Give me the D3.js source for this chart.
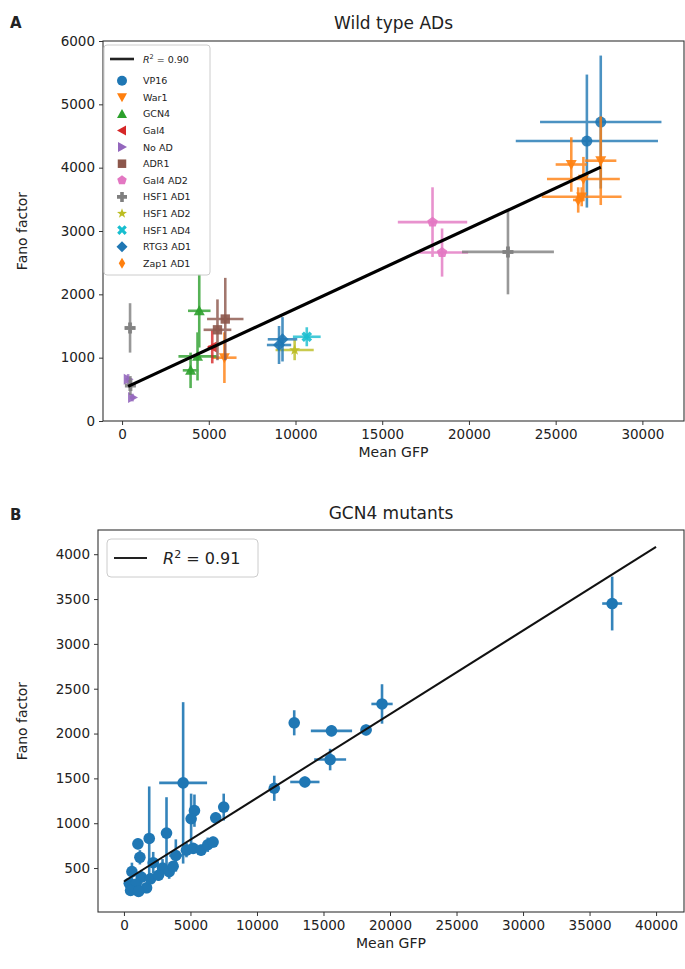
<!DOCTYPE html>
<html>
<head>
<meta charset="utf-8">
<script src="https://cdn.jsdelivr.net/npm/d3@7"></script>
<style>
  body { margin: 0; background: #fff; }
  svg text { font-family: "DejaVu Sans", sans-serif; fill: #222; }
</style>
</head>
<body>
<svg id="fig" width="685" height="969"></svg>
<script>
// ---------- panel A data: [mean GFP, fano, xerr, yerr] ----------
var adNames = ["VP16", "War1", "GCN4", "Gal4", "No AD", "ADR1", "Gal4 AD2", "HSF1 AD1", "HSF1 AD2", "HSF1 AD4", "RTG3 AD1", "Zap1 AD1"];
var adMarkers = ["o", "v", "^", "<", ">", "s", "p", "P", "*", "X", "D", "d"];
var adColors = ["#1f77b4", "#ff7f0e", "#2ca02c", "#d62728", "#9467bd", "#8c564b", "#e377c2", "#7f7f7f", "#bcbd22", "#17becf", "#1f77b4", "#ff7f0e"];

var vp16 = [[26800, 4420, 4100, 1050], [27600, 4720, 3500, 1050]];
var war1 = [[25900, 4050, 900, 430], [27600, 4110, 900, 700], [26600, 3820, 2100, 350], [26500, 3540, 2300, 150], [5900, 1000, 700, 400]];
var gcn4 = [[4450, 1740, 650, 580], [4350, 1020, 1100, 380], [3950, 800, 450, 280]];
var gal4 = [[5200, 1170, 250, 260]];
var noAD = [[350, 660, 150, 80], [600, 370, 150, 60]];
var adr1 = [[5950, 1610, 1050, 650], [5500, 1440, 800, 480]];
var gal4AD2 = [[17900, 3140, 2000, 550], [18450, 2660, 1500, 380]];
var hsf1AD1 = [[22250, 2670, 2650, 670], [460, 1470, 300, 390], [480, 560, 150, 150]];
var hsf1AD2 = [[9950, 1120, 1100, 160]];
var hsf1AD4 = [[10650, 1330, 800, 150]];
var rtg3AD1 = [[9250, 1290, 850, 350], [9050, 1200, 700, 300]];
var zap1AD1 = [[26300, 3490, 300, 200]];
var adSeries = [vp16, war1, gcn4, gal4, noAD, adr1, gal4AD2, hsf1AD1, hsf1AD2, hsf1AD4, rtg3AD1, zap1AD1];

var fitA = { slope: 0.127, intercept: 503, label: "0.90" };
var xTicksA = [0, 5000, 10000, 15000, 20000, 25000, 30000];
var yTicksA = [0, 1000, 2000, 3000, 4000, 5000, 6000];

// ---------- panel B data: GCN4 mutants [mean GFP, fano, xerr, yerr] ----------
var gcn4Mutants = [
  [36700, 3450, 750, 300], [19400, 2330, 800, 220], [12800, 2120, 250, 140], [15600, 2030, 1550, 60],
  [18200, 2040, 400, 60], [15500, 1710, 1200, 120], [13600, 1460, 1100, 60], [11300, 1390, 300, 140],
  [4450, 1450, 1800, 900], [5300, 1140, 300, 180], [7500, 1180, 300, 150], [5050, 1050, 250, 280],
  [6900, 1060, 200, 60], [3200, 890, 200, 400], [1900, 830, 200, 580], [1050, 770, 200, 60],
  [3900, 640, 500, 180], [4700, 700, 400, 80], [5200, 720, 300, 60], [5800, 700, 300, 60],
  [6300, 760, 300, 80], [6700, 790, 200, 60], [1200, 620, 300, 80], [2200, 560, 400, 120],
  [2900, 500, 300, 100], [3400, 460, 300, 80], [600, 460, 200, 100], [1300, 400, 300, 80],
  [400, 330, 200, 60], [900, 320, 200, 60], [1700, 280, 200, 60], [500, 250, 150, 50],
  [1100, 240, 200, 50], [2000, 380, 300, 60], [2600, 420, 200, 60], [3700, 520, 200, 60]
];
var fitB = { slope: 0.0933, intercept: 350, range: [0, 40000], label: "0.91" };
var xTicksB = [0, 5000, 10000, 15000, 20000, 25000, 30000, 35000, 40000];
var yTicksB = [500, 1000, 1500, 2000, 2500, 3000, 3500, 4000];

// ---------- marker shapes ----------
function plusPts(a, b) {
  return [[-b, -a], [b, -a], [b, -b], [a, -b], [a, b], [b, b], [b, a], [-b, a], [-b, b], [-a, b], [-a, -b], [-b, -b]];
}
function markerPath(m, s) {
  var p;
  if (m === "o") return d3.symbol(d3.symbolCircle, Math.PI * s * s)();
  if (m === "v") p = [[0, s], [-s, -s * 0.8], [s, -s * 0.8]];
  if (m === "^") p = [[0, -s], [-s, s * 0.8], [s, s * 0.8]];
  if (m === "<") p = [[-s, 0], [s * 0.8, -s], [s * 0.8, s]];
  if (m === ">") p = [[s, 0], [-s * 0.8, -s], [-s * 0.8, s]];
  if (m === "s") { var q = s * 0.85; p = [[-q, -q], [q, -q], [q, q], [-q, q]]; }
  if (m === "p") p = d3.range(5).map(i => { var a = -Math.PI / 2 + i * 2 * Math.PI / 5; return [s * Math.cos(a), s * Math.sin(a)]; });
  if (m === "*") p = d3.range(10).map(i => { var a = -Math.PI / 2 + i * Math.PI / 5, r = i % 2 ? s * 0.42 : s * 1.05; return [r * Math.cos(a), r * Math.sin(a)]; });
  if (m === "D") p = [[0, -s * 1.1], [s * 1.1, 0], [0, s * 1.1], [-s * 1.1, 0]];
  if (m === "d") p = [[0, -s * 1.1], [s * 0.65, 0], [0, s * 1.1], [-s * 0.65, 0]];
  if (m === "P") p = plusPts(s, s * 0.36);
  if (m === "X") {
    var c = Math.SQRT1_2;
    p = plusPts(s * 1.05, s * 0.32).map(d => [(d[0] - d[1]) * c, (d[0] + d[1]) * c]);
  }
  return "M" + p.map(d => d.join(",")).join("L") + "Z";
}

var svg = d3.select("#fig");

function frame(g, x, y, xt, yt, w, h) {
  var xa = g.append("g").attr("transform", "translate(0," + h + ")")
    .call(d3.axisBottom(x).tickValues(xt).tickFormat(d3.format("d")).tickSizeOuter(0).tickSize(4).tickPadding(4));
  var ya = g.append("g")
    .call(d3.axisLeft(y).tickValues(yt).tickFormat(d3.format("d")).tickSizeOuter(0).tickSize(4).tickPadding(4));
  [xa, ya].forEach(a => {
    a.select(".domain").remove();
    a.selectAll(".tick line").attr("stroke", "#333");
    a.selectAll(".tick text").style("font-size", "13.5px").attr("fill", "#222");
  });
  g.append("rect").attr("width", w).attr("height", h).attr("fill", "none").attr("stroke", "#333").attr("stroke-width", 1.1);
}

function errorbars(g, pts, x, y, color, lw, op) {
  var eb = g.append("g").attr("stroke", color).attr("stroke-width", lw).attr("opacity", op);
  pts.forEach(d => {
    eb.append("line").attr("x1", x(d[0] - d[2])).attr("x2", x(d[0] + d[2])).attr("y1", y(d[1])).attr("y2", y(d[1]));
    eb.append("line").attr("x1", x(d[0])).attr("x2", x(d[0])).attr("y1", y(d[1] - d[3])).attr("y2", y(d[1] + d[3]));
  });
}

// ================= Panel A =================
var A = { left: 103, top: 41, w: 581, h: 380 };
var xA = d3.scaleLinear().domain([-1100, 32400]).range([0, A.w]);
var yA = d3.scaleLinear().domain([0, 6000]).range([A.h, 0]);
var gA = svg.append("g").attr("transform", "translate(" + A.left + "," + A.top + ")");

svg.append("text").attr("x", 10).attr("y", 28).style("font-size", "15px").style("font-weight", "bold").text("A");
svg.append("text").attr("x", A.left + A.w / 2).attr("y", 29).attr("text-anchor", "middle").style("font-size", "17px").text("Wild type ADs");

adSeries.forEach((pts, i) => {
  errorbars(gA, pts, xA, yA, adColors[i], 2.6, 0.8);
  gA.append("g").selectAll("path").data(pts).enter().append("path")
    .attr("transform", d => "translate(" + xA(d[0]) + "," + yA(d[1]) + ")")
    .attr("d", markerPath(adMarkers[i], 5.5))
    .attr("fill", adColors[i]).attr("opacity", 0.9);
});

var allA = adSeries.flat();
var extA = d3.extent(allA, d => d[0]);
gA.append("line")
  .attr("x1", xA(extA[0])).attr("y1", yA(fitA.intercept + fitA.slope * extA[0]))
  .attr("x2", xA(extA[1])).attr("y2", yA(fitA.intercept + fitA.slope * extA[1]))
  .attr("stroke", "#000").attr("stroke-width", 3.2);

frame(gA, xA, yA, xTicksA, yTicksA, A.w, A.h);

svg.append("text").attr("transform", "translate(27," + (A.top + A.h / 2) + ") rotate(-90)")
  .attr("text-anchor", "middle").style("font-size", "14px").text("Fano factor");
svg.append("text").attr("x", A.left + A.w / 2).attr("y", A.top + A.h + 36)
  .attr("text-anchor", "middle").style("font-size", "14px").text("Mean GFP");

// legend A
var lgA = svg.append("g").attr("transform", "translate(104,45)");
lgA.append("rect").attr("width", 106).attr("height", 230).attr("rx", 3)
  .attr("fill", "#fff").attr("fill-opacity", 0.85).attr("stroke", "#ccc");
lgA.append("line").attr("x1", 6).attr("x2", 30).attr("y1", 14).attr("y2", 14).attr("stroke", "#222").attr("stroke-width", 2.6);
var r2A = lgA.append("text").attr("x", 39).attr("y", 17.5).style("font-size", "9.5px");
r2A.append("tspan").style("font-style", "italic").text("R");
r2A.append("tspan").attr("dy", -4).style("font-size", "6.5px").text("2");
r2A.append("tspan").attr("dy", 4).text(" = " + fitA.label);
adNames.forEach((n, i) => {
  var yy = 35.7 + i * 16.6;
  lgA.append("path").attr("transform", "translate(18," + yy + ")")
    .attr("d", markerPath(adMarkers[i], 5)).attr("fill", adColors[i]);
  lgA.append("text").attr("x", 39).attr("y", yy + 3.5).style("font-size", "9.5px").text(n);
});

// ================= Panel B =================
var B = { left: 98, top: 530, w: 586, h: 382 };
var xB = d3.scaleLinear().domain([-1950, 42100]).range([0, B.w]);
var yB = d3.scaleLinear().domain([10, 4270]).range([B.h, 0]);
var gB = svg.append("g").attr("transform", "translate(" + B.left + "," + B.top + ")");

svg.append("text").attr("x", 10).attr("y", 520).style("font-size", "15px").style("font-weight", "bold").text("B");
svg.append("text").attr("x", B.left + B.w / 2).attr("y", 519).attr("text-anchor", "middle").style("font-size", "17px").text("GCN4 mutants");

errorbars(gB, gcn4Mutants, xB, yB, "#1f77b4", 2.6, 0.9);
gB.append("g").selectAll("circle").data(gcn4Mutants).enter().append("circle")
  .attr("cx", d => xB(d[0])).attr("cy", d => yB(d[1])).attr("r", 5.8).attr("fill", "#1f77b4");

gB.append("line")
  .attr("x1", xB(fitB.range[0])).attr("y1", yB(fitB.intercept + fitB.slope * fitB.range[0]))
  .attr("x2", xB(fitB.range[1])).attr("y2", yB(fitB.intercept + fitB.slope * fitB.range[1]))
  .attr("stroke", "#111").attr("stroke-width", 2);

frame(gB, xB, yB, xTicksB, yTicksB, B.w, B.h);

svg.append("text").attr("transform", "translate(27," + (B.top + B.h / 2) + ") rotate(-90)")
  .attr("text-anchor", "middle").style("font-size", "14px").text("Fano factor");
svg.append("text").attr("x", B.left + B.w / 2).attr("y", B.top + B.h + 36)
  .attr("text-anchor", "middle").style("font-size", "14px").text("Mean GFP");

var lgB = svg.append("g").attr("transform", "translate(107,539)");
lgB.append("rect").attr("width", 151).attr("height", 38).attr("rx", 4)
  .attr("fill", "#fff").attr("fill-opacity", 0.85).attr("stroke", "#ccc");
lgB.append("line").attr("x1", 7).attr("x2", 40).attr("y1", 19).attr("y2", 19).attr("stroke", "#222").attr("stroke-width", 2);
var r2B = lgB.append("text").attr("x", 56).attr("y", 25).style("font-size", "16px");
r2B.append("tspan").style("font-style", "italic").text("R");
r2B.append("tspan").attr("dy", -6).style("font-size", "11px").text("2");
r2B.append("tspan").attr("dy", 6).text(" = " + fitB.label);
</script>
</body>
</html>
